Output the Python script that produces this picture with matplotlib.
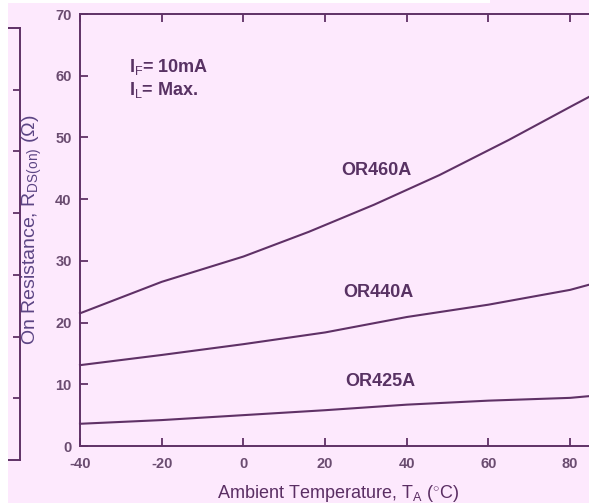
"""Recreate the on-resistance vs ambient temperature chart."""

import matplotlib as mpl
import matplotlib.pyplot as plt
from matplotlib import patches as mpatches

mpl.use("Agg")
plt.rcParams["font.family"] = ["Liberation Sans", "DejaVu Sans"]
plt.rcParams["mathtext.fontset"] = "custom"
plt.rcParams["mathtext.rm"] = "Liberation Sans"
plt.rcParams["mathtext.it"] = "Liberation Sans:italic"
plt.rcParams["mathtext.bf"] = "Liberation Sans:bold"
plt.rcParams["axes.unicode_minus"] = False

BG = "#fde9fd"
LINE_CLR = "#5f3166"
TICK_CLR = "#6a4c70"
LABEL_CLR = "#5c4584"
TEXT_CLR = "#583263"

# data
t_or460a = [-40, -20, 0, 16, 32, 48, 65, 81, 85]
r_or460a = [21.5, 26.6, 30.7, 34.7, 39.1, 43.9, 49.6, 55.3, 56.7]
temperature = [-40, -20, 0, 20, 40, 60, 80, 85]
r_or440a = [13.1, 14.75, 16.5, 18.4, 20.9, 22.9, 25.3, 26.2]
r_or425a = [3.6, 4.2, 5.0, 5.8, 6.7, 7.35, 7.8, 8.1]
series_names = ["OR460A", "OR440A", "OR425A"]
name_pos = [(32.6, 44.6), (33.1, 24.8), (33.6, 10.4)]
x_ticks = [-40, -20, 0, 20, 40, 60, 80]
y_ticks = [0, 10, 20, 30, 40, 50, 60, 70]

W, H = 589, 503
fig = plt.figure(figsize=(W / 100, H / 100), dpi=100, facecolor=BG)

# white margins of the scanned page
fig.patches.append(
    mpatches.Rectangle((0, 0), 8 / W, 1, transform=fig.transFigure,
                       facecolor="white", edgecolor="none", zorder=0)
)
fig.patches.append(
    mpatches.Rectangle((0, 1 - 3 / H), 490 / W, 3 / H, transform=fig.transFigure,
                       facecolor="white", edgecolor="none", zorder=0)
)

# ghost axis left over at the far left
gax = fig.add_axes([8 / W, 43 / H, 12 / W, 432 / H])
gax.set_facecolor("none")
gax.set_xlim(0, 1)
gax.set_ylim(0, 70)
gax.set_xticks([])
gax.set_yticks(y_ticks[1:-1])
gax.yaxis.tick_right()
gax.tick_params(axis="y", direction="in", length=5, width=1.3, color=LINE_CLR,
                labelright=False)
gax.spines["left"].set_visible(False)
for s in ("right", "top", "bottom"):
    gax.spines[s].set_color(LINE_CLR)
    gax.spines[s].set_linewidth(1.4)

# main axes
ax = fig.add_axes([80 / W, 57 / H, 531 / W, 432 / H])
ax.set_facecolor("none")
ax.set_xlim(-40, 90)
ax.set_ylim(0, 70)

curves = [(t_or460a, r_or460a), (temperature, r_or440a), (temperature, r_or425a)]
for (xs, vals), name, (tx, ty) in zip(curves, series_names, name_pos, strict=True):
    ax.plot(xs, vals, color=LINE_CLR, lw=1.5, clip_on=False)
    ax.text(tx, ty, name, ha="center", va="center", fontsize=13,
            fontweight="bold", color=TEXT_CLR)

ax.set_xticks(x_ticks)
ax.set_yticks(y_ticks)
ax.tick_params(axis="x", direction="in", length=5.5, width=1.3, color=LINE_CLR,
               top=True, pad=8, labelsize=10.5, labelcolor=TICK_CLR)
ax.tick_params(axis="y", direction="in", length=5.5, width=1.3, color=LINE_CLR,
               pad=6, labelsize=10.5, labelcolor=TICK_CLR)
for lab in ax.get_xticklabels() + ax.get_yticklabels():
    lab.set_fontweight("bold")
ax.spines["right"].set_visible(False)
for s in ("left", "top", "bottom"):
    ax.spines[s].set_color(LINE_CLR)
    ax.spines[s].set_linewidth(1.4)

ax.text(-28.1, 61.4, r"I$_\mathrm{F}$= 10mA", ha="left", va="center",
        fontsize=13, fontweight="bold", color=TEXT_CLR)
ax.text(-28.1, 57.7, r"I$_\mathrm{L}$= Max.", ha="left", va="center",
        fontsize=13, fontweight="bold", color=TEXT_CLR)

fig.text(32 / W, 1 - 230 / H, r"On Resistance, R$_{\mathrm{DS(on)}}$ ($\Omega$)",
         rotation=90, ha="center", va="center", fontsize=14, color=LABEL_CLR)
fig.text(338 / W, 1 - 493 / H, r"Ambient Temperature, T$_{\mathrm{A}}$ ($^{\circ}$C)",
         ha="center", va="center", fontsize=13, color="#5a2e63")

fig.savefig("out.png", dpi=100, facecolor=BG)
